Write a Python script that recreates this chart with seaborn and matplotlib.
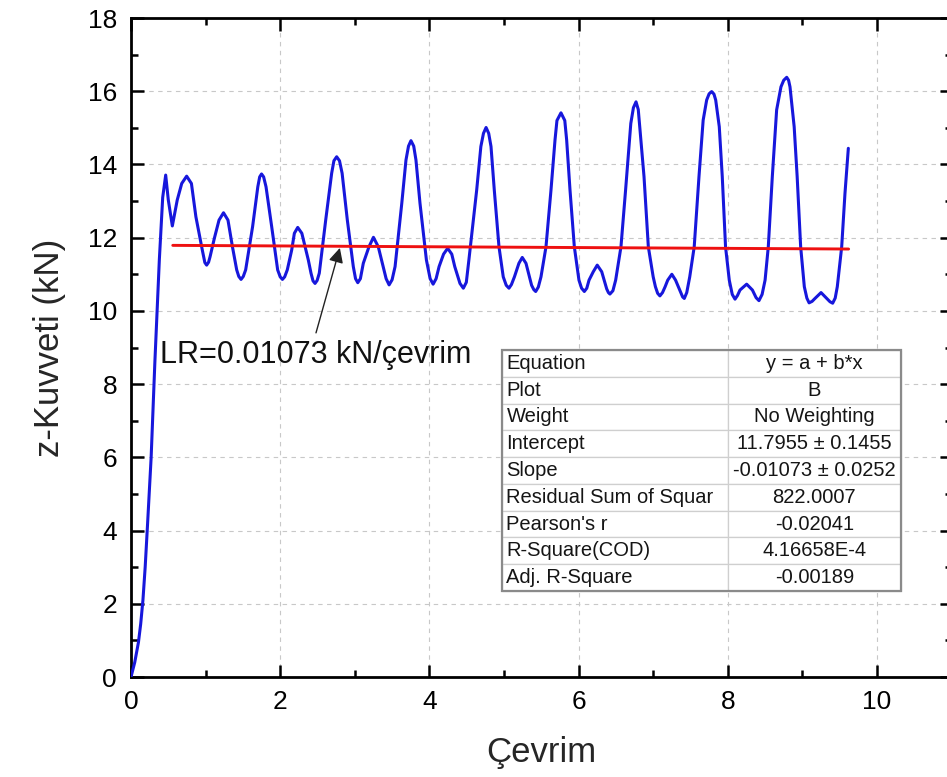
import matplotlib
matplotlib.use("Agg")
import matplotlib.pyplot as plt
import seaborn as sns
import pandas as pd
from matplotlib.patches import Rectangle

# ---------------- data ----------------
cycle = [0.00, 0.05, 0.10, 0.13, 0.16, 0.19, 0.22, 0.27, 0.32, 0.38, 0.425, 0.465,
         0.50, 0.554, 0.62, 0.68, 0.746, 0.81, 0.87, 0.956, 0.99, 1.014,
         1.04, 1.06, 1.117, 1.18, 1.24, 1.30, 1.36, 1.417, 1.445, 1.475,
         1.505, 1.537, 1.63, 1.70, 1.725, 1.75, 1.778, 1.81, 1.886, 1.966,
         2.00, 2.03, 2.06, 2.095, 2.154, 2.19, 2.235, 2.29, 2.377, 2.413,
         2.44, 2.467, 2.495, 2.524, 2.61, 2.69, 2.72, 2.757, 2.795, 2.83,
         2.90, 2.98, 3.01, 3.04, 3.075, 3.114, 3.19, 3.25, 3.315, 3.38,
         3.42, 3.46, 3.50, 3.54, 3.63, 3.686, 3.72, 3.753, 3.79, 3.82,
         3.874, 3.96, 4.01, 4.05, 4.09, 4.13, 4.19, 4.245, 4.30, 4.34,
         4.41, 4.455, 4.495, 4.53, 4.634, 4.69, 4.725, 4.76, 4.795, 4.826,
         4.87, 4.933, 4.99, 5.03, 5.067, 5.10, 5.14, 5.20, 5.245, 5.295,
         5.37, 5.40, 5.425, 5.46, 5.496, 5.563, 5.63, 5.684, 5.71, 5.764,
         5.815, 5.84, 5.885, 5.943, 6.005, 6.04, 6.077, 6.11, 6.14, 6.197,
         6.25, 6.31, 6.377, 6.40, 6.42, 6.46, 6.497, 6.568, 6.63, 6.70,
         6.735, 6.77, 6.80, 6.82, 6.877, 6.935, 7.00, 7.03, 7.06, 7.09,
         7.125, 7.16, 7.195, 7.25, 7.30, 7.37, 7.395, 7.417, 7.45, 7.49,
         7.55, 7.614, 7.67, 7.717, 7.75, 7.784, 7.815, 7.838, 7.886, 7.926,
         7.97, 8.02, 8.06, 8.097, 8.13, 8.164, 8.253, 8.33, 8.38, 8.418,
         8.46, 8.50, 8.543, 8.597, 8.655, 8.713, 8.75, 8.79, 8.815, 8.834,
         8.89, 8.93, 8.977, 9.026, 9.06, 9.09, 9.13, 9.169, 9.25, 9.326,
         9.37, 9.406, 9.44, 9.468, 9.527, 9.571, 9.616]
force = [0.00, 0.40, 0.95, 1.45, 2.1, 3.0, 4.1, 6.0, 8.6, 11.4, 13.1, 13.71,
         13.03, 12.32, 13.03, 13.48, 13.68, 13.48, 12.57, 11.66, 11.32, 11.25,
         11.33, 11.48, 11.98, 12.48, 12.68, 12.48, 11.75, 11.12, 10.94, 10.86,
         10.94, 11.12, 12.30, 13.39, 13.66, 13.74, 13.66, 13.39, 12.30, 11.12,
         10.93, 10.86, 10.93, 11.12, 11.66, 12.12, 12.28, 12.12, 11.39, 11.03,
         10.82, 10.75, 10.83, 11.03, 12.48, 13.76, 14.10, 14.21, 14.10, 13.76,
         12.48, 11.21, 10.88, 10.77, 10.88, 11.30, 11.75, 12.01, 11.75, 11.21,
         10.88, 10.71, 10.85, 11.21, 12.94, 14.12, 14.50, 14.65, 14.50, 14.12,
         12.94, 11.39, 10.88, 10.73, 10.88, 11.21, 11.55, 11.71, 11.55, 11.21,
         10.75, 10.62, 10.78, 11.40, 13.30, 14.49, 14.85, 15.01, 14.85, 14.49,
         13.30, 11.75, 10.93, 10.70, 10.62, 10.72, 10.93, 11.30, 11.46, 11.30,
         10.70, 10.58, 10.53, 10.65, 10.93, 11.75, 13.30, 14.67, 15.20, 15.41,
         15.20, 14.67, 13.30, 11.75, 10.84, 10.62, 10.53, 10.62, 10.84, 11.07,
         11.25, 11.07, 10.60, 10.50, 10.46, 10.55, 10.84, 11.75, 13.30, 15.12,
         15.55, 15.71, 15.50, 15.03, 13.67, 11.75, 10.93, 10.66, 10.48, 10.41,
         10.50, 10.66, 10.84, 11.00, 10.84, 10.50, 10.38, 10.34, 10.50, 10.93,
         11.75, 13.67, 15.21, 15.76, 15.93, 15.99, 15.92, 15.76, 15.03, 13.67,
         11.75, 10.84, 10.45, 10.32, 10.42, 10.57, 10.73, 10.57, 10.36, 10.28,
         10.45, 10.84, 11.75, 13.67, 15.49, 16.12, 16.30, 16.38, 16.30, 16.12,
         15.03, 13.67, 11.75, 10.66, 10.35, 10.22, 10.26, 10.34, 10.50, 10.34,
         10.25, 10.21, 10.35, 10.66, 11.75, 13.21, 14.44]

fit_cycle = [0.56, 9.62]
fit_force = [11.79, 11.69]

x_ticks = [0, 2, 4, 6, 8, 10]
y_ticks = [0, 2, 4, 6, 8, 10, 12, 14, 16, 18]

table_labels = ["Equation", "Plot", "Weight", "Intercept", "Slope",
                "Residual Sum of Squar", "Pearson's r", "R-Square(COD)",
                "Adj. R-Square"]
table_values = ["y = a + b*x", "B", "No Weighting", "11.7955 \u00b1 0.1455",
                "-0.01073 \u00b1 0.0252", "822.0007", "-0.02041",
                "4.16658E-4", "-0.00189"]

annot_text = "LR=0.01073 kN/\u00e7evrim"
x_label = "\u00c7evrim"
y_label = "z-Kuvveti (kN)"

# ---------------- styling ----------------
sns.set_style("ticks")
plt.rcParams["font.family"] = ["Liberation Sans", "DejaVu Sans"]

fig = plt.figure(figsize=(9.47, 7.77), dpi=100)
ax = fig.add_axes([0.13833, 0.12870, 0.8665, 0.84813])

curve = pd.DataFrame({"x": cycle, "y": force})
fit = pd.DataFrame({"x": fit_cycle, "y": fit_force})

sns.lineplot(data=curve, x="x", y="y", sort=False, estimator=None,
             color="#1717dc", linewidth=2.2, ax=ax, zorder=3,
             solid_joinstyle="round", solid_capstyle="round")
sns.lineplot(data=fit, x="x", y="y", sort=False, estimator=None,
             color="#ee1111", linewidth=2.1, ax=ax, zorder=4)

ax.set_xlim(0, 11)
ax.set_ylim(0, 18)
ax.set_xticks(x_ticks)
ax.set_yticks(y_ticks)
ax.set_xticks(range(0, 12), minor=True)
ax.set_yticks(range(0, 19), minor=True)

ax.grid(True, which="major", color="#c8c8c8", linestyle=(0, (4, 4)),
        linewidth=0.8, zorder=0)
ax.set_axisbelow(True)

for s in ax.spines.values():
    s.set_linewidth(2.0)
    s.set_color("black")

ax.tick_params(which="both", direction="in", top=True, right=True,
               width=1.8, colors="black")
ax.tick_params(which="major", length=9, labelsize=19)
ax.tick_params(which="minor", length=5)
ax.tick_params(axis="x", which="major", pad=9)
ax.tick_params(axis="y", which="major", pad=10)

ax.set_xlabel(x_label, fontsize=25, labelpad=16)
ax.set_ylabel(y_label, fontsize=25, labelpad=16)

# annotation
ax.text(0.39, 8.80, annot_text, fontsize=22, ha="left", va="center",
        color="#111111", zorder=5)
ax.annotate("", xy=(2.80, 11.72), xytext=(2.48, 9.40),
            arrowprops=dict(arrowstyle="-|>", color="#222222", lw=1.0,
                            mutation_scale=22, shrinkA=0, shrinkB=0),
            zorder=5)

# fit table
cell_text = [[a, b] for a, b in zip(table_labels, table_values)]
tb = ax.table(cellText=cell_text, colWidths=[0.566, 0.434],
              bbox=[0.4521, 0.1305, 0.4862, 0.3657], zorder=6)
tb.auto_set_font_size(False)
tb.set_fontsize(14.5)
for (r, c), cell in tb.get_celld().items():
    cell.set_edgecolor("#cfcfcf")
    cell.set_linewidth(0.9)
    cell.set_facecolor("white")
    cell.PAD = 0.02
    cell.get_text().set_color("#151515")
    if c == 0:
        cell.get_text().set_ha("left")
        cell._loc = "left"
    else:
        cell.get_text().set_ha("center")
        cell._loc = "center"
ax.add_patch(Rectangle((0.4521, 0.1305), 0.4862, 0.3657,
                       transform=ax.transAxes, fill=False,
                       edgecolor="#8a8a8a", linewidth=1.6, zorder=7))

fig.savefig("out.png", dpi=100)
